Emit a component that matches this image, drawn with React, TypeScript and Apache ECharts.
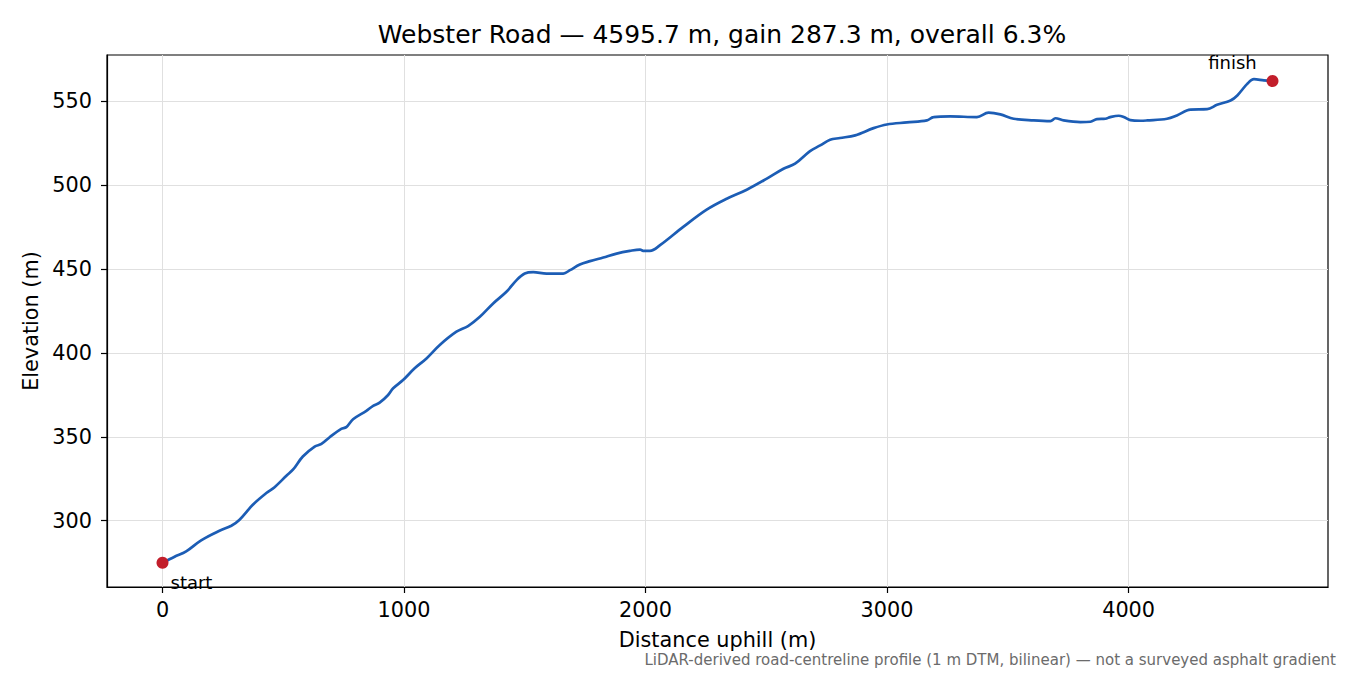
import React, { useRef, useEffect } from 'react';
import * as echarts from 'echarts';

// profile (m along road, m elevation)
const distance = [
  0, 50, 98, 160, 236, 285, 319, 374, 430, 464, 513, 540, 581, 630, 658, 692, 740, 761, 789, 844,
  872, 899, 934, 955, 996, 1044, 1093, 1148, 1217, 1265, 1314, 1369, 1424, 1466, 1500, 1535, 1590,
  1659, 1687, 1728, 1770, 1825, 1880, 1935, 1977, 1990, 2018, 2060, 2156, 2253, 2336, 2419, 2502,
  2571, 2619, 2681, 2723, 2764, 2805, 2868, 2944, 2999, 3082, 3165, 3192, 3261, 3372, 3420, 3469,
  3524, 3607, 3676, 3697, 3731, 3800, 3842, 3869, 3904, 3924, 3959, 3980, 4007, 4049, 4076, 4159,
  4200, 4256, 4325, 4366, 4422, 4450, 4491, 4519, 4560, 4595.7,
];
const elevation = [
  274.9, 278.5, 281.7, 288.3, 294, 297, 300.6, 309.5, 316.5, 320, 326.8, 330.4, 338.3, 344.2, 345.8,
  349.8, 354.8, 355.8, 360.5, 365.5, 368.5, 370.4, 375, 379, 383.9, 390.9, 396.8, 404.8, 412.7,
  416.1, 421.6, 429.6, 436.5, 443.5, 447.4, 448.2, 447.4, 447.4, 449.4, 452.8, 454.8, 457, 459.3,
  460.9, 461.7, 460.9, 460.9, 464.3, 475.2, 485.5, 492, 497.4, 504, 509.9, 512.9, 520.4, 523.8,
  527.2, 528.2, 529.8, 534.1, 536.3, 537.5, 538.7, 540.7, 541.1, 540.7, 543.3, 542.3, 539.7, 538.7,
  538.3, 540, 538.7, 537.7, 537.9, 539.5, 539.7, 540.7, 541.5, 540.7, 538.9, 538.5, 538.7, 539.7,
  541.7, 545.2, 545.4, 548, 550.6, 553.6, 560.5, 563.3, 562.6, 562.2,
];
const endpointNames = ['start', 'finish'];
const xTicks = [0, 1000, 2000, 3000, 4000];
const yTicks = [300, 350, 400, 450, 500, 550];

const FONT = '"DejaVu Sans", sans-serif';

const App: React.FC = () => {
  const chartRef = useRef<HTMLDivElement>(null);

  useEffect(() => {
    if (!chartRef.current) return;
    const chart = echarts.init(chartRef.current, undefined, { renderer: 'svg' });

    const last = distance.length - 1;
    const total = distance[last];
    const lo = Math.min(...elevation);
    const hi = Math.max(...elevation);
    const xPad = total * 0.05;
    const yPad = (hi - lo) * 0.05;

    const option: echarts.EChartsOption = {
      animation: false,
      backgroundColor: '#ffffff',
      textStyle: { fontFamily: FONT },
      title: {
        text: 'Webster Road — 4595.7 m, gain 287.3 m, overall 6.3%',
        left: 717,
        top: 17,
        textAlign: 'center',
        textStyle: { fontFamily: FONT, fontSize: 25, fontWeight: 'normal', color: '#000' },
      },
      grid: {
        left: 107,
        right: 22,
        top: 55,
        bottom: 88,
        show: true,
        borderColor: '#000',
        borderWidth: 1.2,
        backgroundColor: 'transparent',
      },
      xAxis: {
        type: 'value',
        min: -xPad,
        max: total + xPad,
        name: 'Distance uphill (m)',
        nameLocation: 'middle',
        nameGap: 53,
        nameTextStyle: { fontFamily: FONT, fontSize: 20.8, color: '#000', verticalAlign: 'middle' },
        axisLine: { show: true, onZero: false, lineStyle: { color: '#000', width: 1.2 } },
        axisTick: { show: true, length: 6, customValues: xTicks, lineStyle: { color: '#000', width: 1.2 } },
        axisLabel: {
          customValues: xTicks,
          formatter: (v: number) => String(v),
          fontFamily: FONT,
          fontSize: 20.8,
          color: '#000',
          margin: 12,
        },
        splitLine: { show: true, lineStyle: { color: '#e0e0e0', width: 1 } },
      },
      yAxis: {
        type: 'value',
        min: lo - yPad,
        max: hi + yPad,
        name: 'Elevation (m)',
        nameLocation: 'middle',
        nameGap: 71,
        nameRotate: 90,
        nameTextStyle: { fontFamily: FONT, fontSize: 20.8, color: '#000', verticalAlign: 'middle' },
        axisLine: { show: true, onZero: false, lineStyle: { color: '#000', width: 1.2 } },
        axisTick: { show: true, length: 6, customValues: yTicks, lineStyle: { color: '#000', width: 1.2 } },
        axisLabel: {
          customValues: yTicks,
          formatter: (v: number) => String(v),
          fontFamily: FONT,
          fontSize: 20.8,
          color: '#000',
          margin: 15,
        },
        splitLine: { show: true, lineStyle: { color: '#e0e0e0', width: 1 } },
      },
      series: [
        {
          type: 'line',
          data: distance.map((d, i) => [d, elevation[i]]),
          showSymbol: false,
          smooth: 0.35,
          lineStyle: { color: '#1c5db5', width: 2.7 },
          z: 2,
        },
        {
          type: 'scatter',
          symbolSize: 12,
          itemStyle: { color: '#c21e2b', opacity: 1 },
          z: 3,
          data: [
            {
              name: endpointNames[0],
              value: [distance[0], elevation[0]],
              label: {
                show: true,
                formatter: '{b}',
                position: [14, 17],
                align: 'left',
                verticalAlign: 'top',
                fontFamily: FONT,
                fontSize: 18,
                color: '#000',
              },
            },
            {
              name: endpointNames[1],
              value: [distance[last], elevation[last]],
              label: {
                show: true,
                formatter: '{b}',
                position: [-34, -13],
                align: 'center',
                verticalAlign: 'middle',
                fontFamily: FONT,
                fontSize: 18,
                color: '#000',
              },
            },
          ],
        },
      ],
      graphic: [
        {
          type: 'text',
          right: 14,
          top: 652,
          style: {
            text: 'LiDAR-derived road-centreline profile (1 m DTM, bilinear) — not a surveyed asphalt gradient',
            font: `15px ${FONT}`,
            fill: '#6b6b6b',
          },
        },
      ],
    };

    chart.setOption(option);

    return () => {
      chart.dispose();
    };
  }, []);

  return (
    <div
      ref={chartRef}
      style={{ position: 'fixed', left: 0, top: 0, width: 1350, height: 675 }}
    />
  );
};

export default App;
